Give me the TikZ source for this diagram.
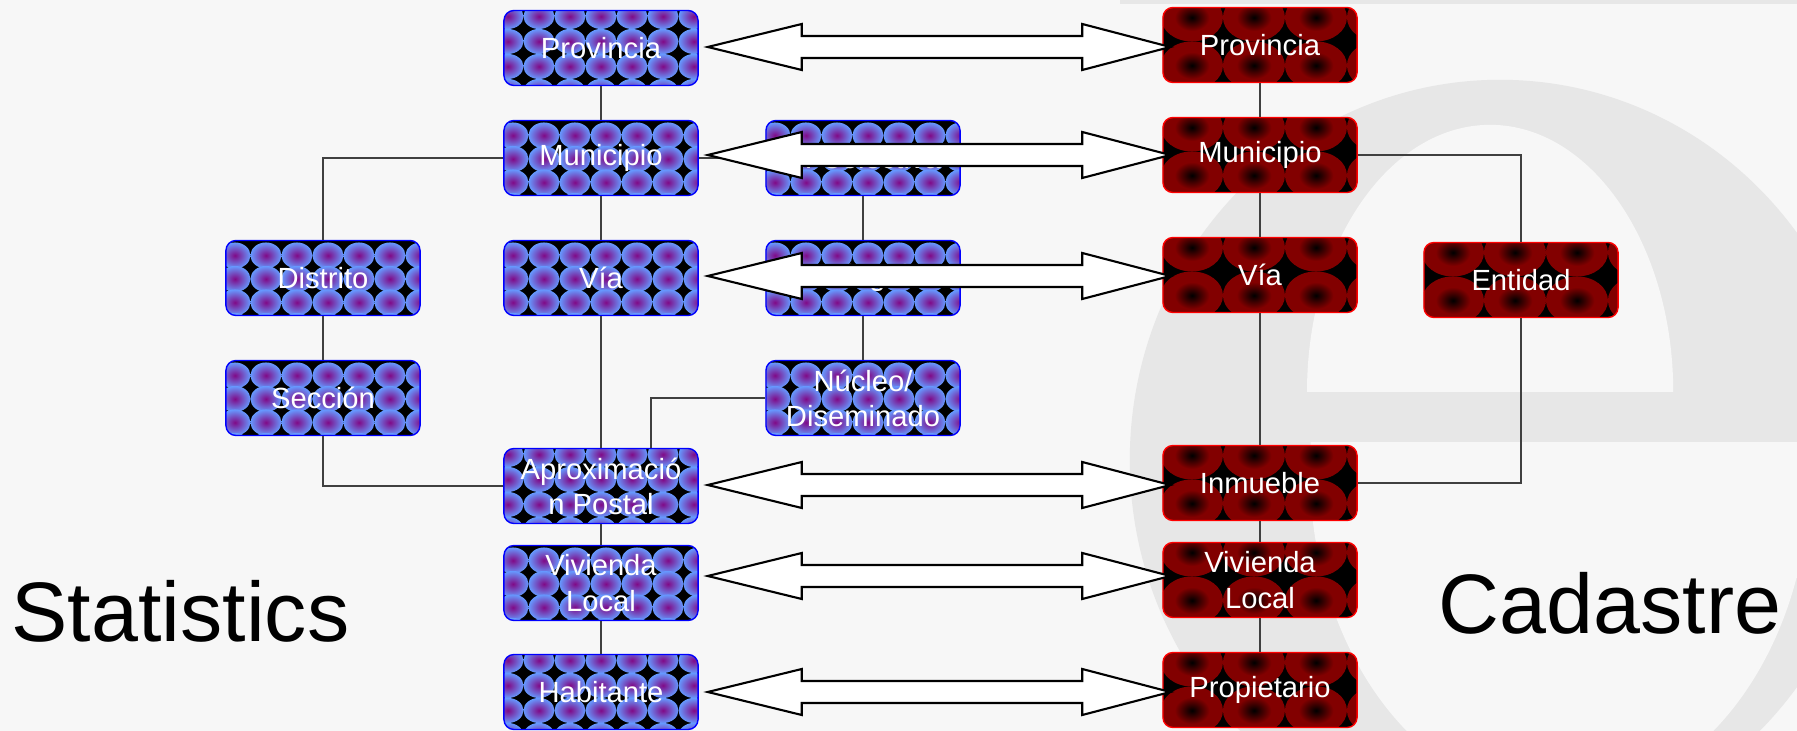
\documentclass[tikz,border=0pt]{standalone}
\usepackage{fontspec}
\setmainfont{Liberation Sans}
\usetikzlibrary{calc}

\definecolor{bggray}{RGB}{247,247,247}
\definecolor{logogray}{RGB}{231,231,231}
\definecolor{inepurple}{RGB}{128,10,135}
\definecolor{ineblue}{RGB}{102,153,255}
\definecolor{catred}{RGB}{130,0,0}
\pgfdeclareradialshading{ineball}{\pgfpoint{0bp}{0bp}}{color(0bp)=(inepurple); color(25bp)=(ineblue); color(50bp)=(ineblue)}
\pgfdeclareradialshading{catball}{\pgfpoint{0bp}{0bp}}{color(0bp)=(black); color(14bp)=(catred); color(50bp)=(catred)}

\newcommand\ballgrid[7]{%
  \shade[shading=#7] ([shift={(-300,-300)}]path picture bounding box.north west) ellipse (1pt and 1pt);
  \foreach \i in {0,...,7}{\foreach \j in {0,...,3}{%
    \shade[shading=#7] ([shift={(#1+\i*#3,#2+\j*#4)}]path picture bounding box.north west) ellipse (#5 and #6);}}}

\newcommand\bigarrow[3][0]{%
  \coordinate (t1) at ([shift={(9,-#1)}]#2.east);
  \coordinate (t2) at (t1 -| #3.west);
  \draw[twoway] (t1) -- ([shift={(94,-23)}]t1) -- ([shift={(94,-11)}]t1)
    -- ([shift={(-80,-11)}]t2) -- ([shift={(-80,-23)}]t2) -- ([shift={(8,0)}]t2)
    -- ([shift={(-80,23)}]t2) -- ([shift={(-80,11)}]t2)
    -- ([shift={(94,11)}]t1) -- ([shift={(94,23)}]t1) -- cycle;}

\tikzset{
  ent/.style={rounded corners=0.1cm, minimum width=1.94cm, minimum height=0.75cm, inner sep=1pt,
    fill=black, text=white, align=center, font=\fontsize{8.3}{10}\selectfont, line width=0.4pt},
  statbox/.style={ent, draw=blue, path picture={\ballgrid{9}{15}{31}{23.5}{0.155cm}{0.13cm}{ineball}}},
  statstar/.style={ent, draw=blue, path picture={\ballgrid{4}{6}{31}{25}{0.155cm}{0.125cm}{ineball}}},
  cadbox/.style={ent, draw=red, path picture={\ballgrid{29}{10}{62}{48}{0.31cm}{0.24cm}{catball}}},
  link/.style={draw=black!75, line width=0.45pt},
  twoway/.style={draw=black, fill=white, line width=0.6pt, line join=miter},
  side/.style={font=\fontsize{24}{28}\selectfont, inner sep=0pt}
}

\begin{document}
\begin{tikzpicture}[x=0.01cm,y=-0.01cm]
\fill[bggray] (0,0) rectangle (1797,731);
\useasboundingbox (0,0) rectangle (1797,731);

\begin{scope}
\clip (0,0) rectangle (1797,731);
\fill[logogray] (1500,460) ellipse (3.7cm and 3.8cm);
\fill[bggray] (1307,392) arc[start angle=180, end angle=0, x radius=1.83cm, y radius=2.67cm] -- cycle;
\begin{scope}
\clip (1000,443) rectangle (1900,800);
\fill[bggray] (1560,470) ellipse (2.5cm and 3.3cm);
\fill[bggray] (1560,443) rectangle (1900,578);
\end{scope}
\fill[logogray] (1120,0) rectangle (1797,4);
\end{scope}

\node[statstar](provL) at (601,48) {Provincia};
\node[statbox](munL) at (601,158) {Municipio};
\node[statbox](viaL) at (601,278) {Vía};
\node[statbox](distrito) at (323,278) {Distrito};
\node[statbox](seccion) at (323,398) {Sección};
\node[statbox](entcol) at (863,158) {E. Colectiva};
\node[statbox](entsing) at (863,278) {E. Singular};
\node[statbox](nucleo) at (863,398) {Núcleo/\\Diseminado};
\node[statstar](aprox) at (601,486) {Aproximació\\n Postal};
\node[statbox](vivL) at (601,583) {Vivienda\\Local};
\node[statstar](habit) at (601,692) {Habitante};

\node[cadbox](provR) at (1260,45) {Provincia};
\node[cadbox](munR) at (1260,155) {Municipio};
\node[cadbox](viaR) at (1260,275) {Vía};
\node[cadbox](entidad) at (1521,280) {Entidad};
\node[cadbox](inmueble) at (1260,483) {Inmueble};
\node[cadbox](vivR) at (1260,580) {Vivienda\\Local};
\node[cadbox](propiet) at (1260,690) {Propietario};

\draw[link] (provL) -- (munL);
\draw[link] (munL) -- (viaL);
\draw[link] (viaL) -- (aprox);
\draw[link] (aprox) -- (vivL);
\draw[link] (vivL) -- (habit);
\draw[link] (munL.west) -| (distrito.north);
\draw[link] (distrito) -- (seccion);
\draw[link] (seccion.south) |- (aprox.west);
\draw[link] (munL.east) -- (entcol.west);
\draw[link] (entcol) -- (entsing);
\draw[link] (entsing) -- (nucleo);
\draw[link] (nucleo.west) -| ([xshift=0.5cm]aprox.north);

\draw[link] (provR) -- (munR);
\draw[link] (munR) -- (viaR);
\draw[link] (viaR) -- (inmueble);
\draw[link] (inmueble) -- (vivR);
\draw[link] (vivR) -- (propiet);
\draw[link] (munR.east) -| (entidad.north);
\draw[link] (entidad.south) |- (inmueble.east);

\bigarrow[1]{provL}{provR}
\bigarrow[3]{munL}{munR}
\bigarrow[2]{viaL}{viaR}
\bigarrow[1]{aprox}{inmueble}
\bigarrow[7]{vivL}{vivR}
\bigarrow{habit}{propiet}

\node[side, anchor=base west](stat) at (11,642) {Statistics};
\node[side, anchor=base west](cad) at (1438,634) {Cadastre};
\end{tikzpicture}
\end{document}
